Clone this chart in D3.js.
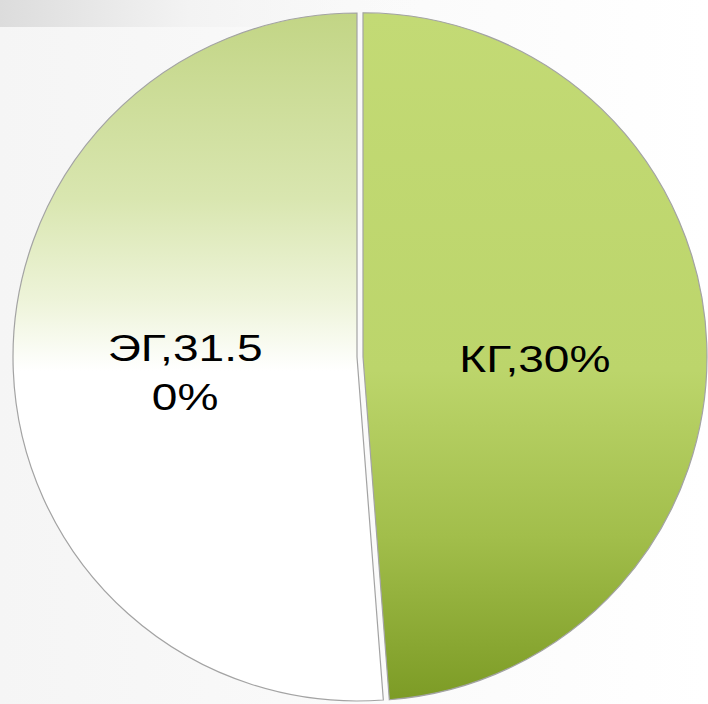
<html>
<head>
<meta charset="utf-8">
<script src="https://cdn.jsdelivr.net/npm/d3@7"></script>
<style>
body { margin: 0; }
svg { display: block; }
text {
    font-family: Arial, "Liberation Sans", sans-serif;
    fill: black;
}
</style>
</head>
<body>
<div id="container"></div>
<script type="text/javascript">
// data
var categories = ["КГ", "ЭГ"];
var values = [30, 31.5];
var labelLines = [["КГ,30%"], ["ЭГ,31.5", "0%"]];

var width = 708, height = 704;
var cx = 357, cy = 357, radius = 344;
var explode = [6, 0];

var svg = d3.select("#container").append("svg")
    .attr("width", width)
    .attr("height", height);

var defs = svg.append("defs");

// page background
var bg = defs.append("linearGradient").attr("id", "bg")
    .attr("x1", 0).attr("x2", 1).attr("y1", 0).attr("y2", 0);
bg.append("stop").attr("offset", "0%").attr("stop-color", "#f5f5f5");
bg.append("stop").attr("offset", "100%").attr("stop-color", "#ffffff");

var band = defs.append("linearGradient").attr("id", "band")
    .attr("x1", 0).attr("x2", 1).attr("y1", 0).attr("y2", 0);
band.append("stop").attr("offset", "0%").attr("stop-color", "#dcdcdc");
band.append("stop").attr("offset", "45%").attr("stop-color", "#f3f3f3");
band.append("stop").attr("offset", "100%").attr("stop-color", "#f8f8f8").attr("stop-opacity", 0);

svg.append("rect").attr("width", width).attr("height", height).attr("fill", "url(#bg)");
svg.append("rect").attr("width", 420).attr("height", 27).attr("fill", "url(#band)");

// slice fills: vertical gradients in the pie's own coordinates
var gKG = defs.append("linearGradient").attr("id", "fill0")
    .attr("gradientUnits", "userSpaceOnUse")
    .attr("x1", 0).attr("x2", 0).attr("y1", -radius).attr("y2", radius);
gKG.append("stop").attr("offset", "0%").attr("stop-color", "#c3da75");
gKG.append("stop").attr("offset", "52%").attr("stop-color", "#bcd56b");
gKG.append("stop").attr("offset", "76%").attr("stop-color", "#a2be4b");
gKG.append("stop").attr("offset", "100%").attr("stop-color", "#7c9b25");

var gEG = defs.append("linearGradient").attr("id", "fill1")
    .attr("gradientUnits", "userSpaceOnUse")
    .attr("x1", 0).attr("x2", 0).attr("y1", -radius).attr("y2", radius);
gEG.append("stop").attr("offset", "0%").attr("stop-color", "#c2d585");
gEG.append("stop").attr("offset", "27%").attr("stop-color", "#d9e6b0");
gEG.append("stop").attr("offset", "42%").attr("stop-color", "#eef4da");
gEG.append("stop").attr("offset", "52%").attr("stop-color", "#ffffff");
gEG.append("stop").attr("offset", "100%").attr("stop-color", "#ffffff");

var pie = d3.pie().sort(null).value(function(d) { return d; });
var arcs = pie(values);

var arc = d3.arc().innerRadius(0).outerRadius(radius);
var labelArc = d3.arc().innerRadius(radius * 0.5).outerRadius(radius * 0.5);

var g = svg.append("g").attr("transform", "translate(" + cx + "," + cy + ")");

var slices = g.selectAll("g.slice")
    .data(arcs)
    .enter()
    .append("g")
    .attr("class", "slice")
    .attr("transform", function(d, i) {
        var a = (d.startAngle + d.endAngle) / 2;
        return "translate(" + (Math.sin(a) * explode[i]) + "," + (-Math.cos(a) * explode[i]) + ")";
    });

slices.append("path")
    .attr("d", arc)
    .attr("fill", function(d, i) { return "url(#fill" + i + ")"; })
    .attr("stroke", "#a3a3a3")
    .attr("stroke-width", 1.2);

slices.each(function(d, i) {
    var c = labelArc.centroid(d);
    var lines = labelLines[i];
    var lh = 49;
    var y0 = c[1] - (lines.length - 1) * lh / 2 + 22;
    var t = d3.select(this).append("text")
        .attr("text-anchor", "middle")
        .attr("font-size", 36)
        .attr("transform", "translate(" + c[0] + "," + y0 + ") scale(1.28,1)");
    lines.forEach(function(s, k) {
        t.append("tspan").attr("x", 0).attr("y", k * lh).text(s);
    });
});
</script>
</body>
</html>
